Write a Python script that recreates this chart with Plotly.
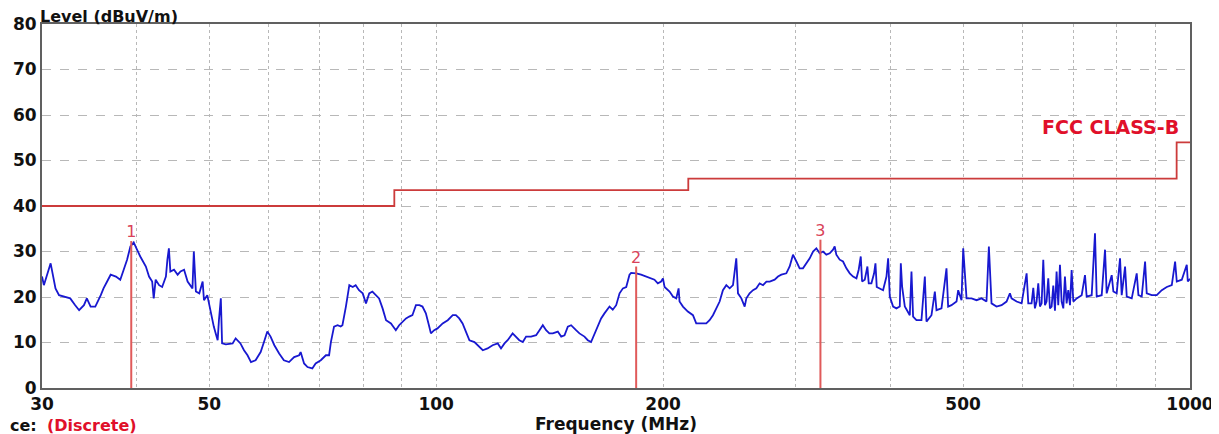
import math
import plotly.graph_objects as go

# ---------------- data ----------------
trace_freq_mhz = [
    30.0, 30.17, 30.8, 31.26, 31.6, 32.2, 32.7, 33.2, 33.6, 34.1, 34.4, 34.8, 35.3, 35.9, 36.2, 36.6,
    37.0, 37.6, 38.1, 38.5, 38.9, 39.3, 39.7, 40.1, 40.5, 41.2, 41.6, 42.0, 42.2, 42.45, 42.9, 43.3,
    43.8, 44.0, 44.2, 44.4, 44.9, 45.4, 45.8, 46.3, 46.8, 47.5, 47.7, 48.0, 48.5, 49.0, 49.2, 49.7,
    50.0, 50.2, 50.7, 51.0, 51.3, 51.5, 51.8, 52.0, 52.6, 53.7, 54.2, 55.0, 55.6, 56.2, 56.8, 57.6,
    58.5, 59.1, 59.7, 60.3, 61.0, 61.9, 62.8, 63.8, 64.8, 65.8, 66.1, 66.8, 67.5, 68.5, 69.2, 70.3,
    71.4, 72.1, 72.5, 73.2, 74.0, 74.7,
    75.1, 75.9, 76.7, 77.5, 78.2, 79.0, 79.9, 80.7, 81.5, 82.3, 83.2, 84.0, 84.9, 85.8, 87.1, 88.4,
    89.3, 90.3, 91.2, 92.1, 93.0, 94.0, 95.0, 95.9, 96.9, 97.9, 98.4, 99.4, 100.4, 102.0, 103.6, 105.2,
    106.2, 107.3, 108.4, 109.5, 110.7, 112.4, 113.5, 115.3, 117.0, 118.8, 120.7, 121.9, 123.2, 124.4,
    126.3, 127.6, 128.9, 130.3, 131.6, 133.6, 135.7, 137.1, 138.5, 139.9, 141.3, 142.8, 145.0, 146.5,
    148.0, 149.5, 151.0, 153.3, 154.9, 157.3, 158.9, 160.5, 162.2, 163.9, 165.5, 167.2, 169.8, 171.5,
    173.3, 175.1, 176.9, 178.7, 180.5, 181.4,
    184.2, 187.0, 189.9, 192.9, 194.8, 196.8, 198.8, 199.9, 200.9, 204.0, 206.1, 208.2, 209.7, 210.3,
    212.5, 215.7, 219.1, 221.3, 224.7, 228.2, 230.5, 232.9, 235.3, 237.7, 240.1, 242.6, 245.1, 247.6,
    250.1, 251.4, 254.0, 256.6, 257.9, 260.5, 263.2, 265.9, 268.6, 271.4, 274.2, 277.0, 281.2, 284.1,
    287.0, 291.4, 294.4, 297.4, 300.5, 303.5, 306.6, 309.8, 313.0, 316.2, 319.4, 322.7, 326.0, 329.3,
    332.7, 336.1, 337.8, 339.5, 343.0, 346.5, 350.1, 353.7, 357.3, 361.0, 363.5, 365.8, 367.3, 370.3,
    373.3, 374.8, 377.9, 381.0, 382.6, 384.1, 387.7, 391.6, 395.7, 397.7, 399.7, 403.8, 407.9, 412.1,
    413.4, 415.1, 418.5, 422.8,
    424.9, 427.1, 429.2, 433.6, 440.3, 444.9, 447.1, 454.0, 458.7, 461.0, 468.1, 475.3, 477.7, 482.6,
    490.1, 492.6, 497.6, 500.2, 505.3, 513.1, 521.0, 529.0, 537.1, 541.0, 545.4, 553.8, 562.4, 571.0,
    576.9, 579.8, 588.8, 597.9, 607.1, 610.2, 616.4, 619.6, 622.7, 625.9, 629.1, 632.3, 635.6, 638.8,
    642.1, 645.3, 648.6, 651.9, 655.3, 658.6, 662.0, 665.3, 668.7, 672.2, 675.6, 679.1, 682.5, 686.0,
    689.5, 693.1, 696.6, 700.2, 707.4, 718.3, 725.6, 729.3, 740.6, 748.1, 752.0, 763.6, 771.4, 775.3,
    787.3, 791.3, 799.4, 807.6, 811.7, 820.1, 824.3, 837.0, 849.8, 854.2, 862.9, 871.8, 876.2, 889.7,
    903.4, 917.4, 931.5, 945.9, 955.5, 960.4, 975.2, 990.2, 993.3, 1000.0,
]
trace_level_dbuv = [
    24.5, 22.6, 27.4, 21.9, 20.4, 20.1, 19.7, 18.2, 17.1, 18.2, 19.7, 17.9, 17.9, 20.4, 21.9, 23.4,
    24.9, 24.5, 23.8, 26.0, 28.2, 31.1, 32.0, 30.4, 28.9, 26.7, 24.5, 23.4, 19.7, 23.8, 22.6, 22.2,
    24.5, 28.2, 30.7, 25.6, 26.0, 24.9, 25.6, 26.0, 23.4, 21.9, 30.0, 21.2, 20.8, 23.4, 19.3, 20.4,
    18.2, 16.4, 13.5, 12.0, 10.5, 14.9, 19.7, 9.8, 9.6, 9.8, 10.9, 9.8, 8.3, 7.2, 5.7, 6.1,
    7.9, 10.1, 12.4, 11.3, 9.4, 7.6, 6.1, 5.7, 6.8, 7.2, 7.9, 5.4, 4.6, 4.3, 5.4, 6.1,
    7.2, 7.2, 10.1, 13.5, 13.8, 13.5,
    13.8, 17.9, 22.6, 22.2, 22.6, 21.5, 20.8, 18.6, 20.8, 21.2, 20.4, 19.7, 17.5, 14.9, 14.2, 12.7,
    13.8, 14.6, 15.3, 15.7, 16.0, 18.2, 18.2, 17.9, 16.4, 13.5, 12.0, 12.7, 13.1, 14.2, 14.9, 16.0,
    16.0, 15.3, 14.2, 12.4, 10.5, 10.1, 9.4, 8.3, 8.7, 9.4, 9.8, 8.7, 9.8, 10.5,
    12.0, 11.3, 10.5, 10.1, 11.3, 11.3, 11.6, 12.7, 13.8, 12.7, 12.0, 12.0, 12.4, 11.3,
    11.6, 13.5, 13.8, 12.7, 12.0, 11.3, 10.5, 10.1, 12.0, 13.5, 15.3, 16.4, 17.9, 17.2,
    18.2, 20.8, 21.9, 22.2, 24.9, 25.3,
    25.2, 24.9, 24.5, 24.1, 23.8, 23.0, 23.4, 24.1, 22.2, 21.2, 20.1, 19.7, 21.9, 19.0,
    17.9, 16.8, 16.0, 14.2, 14.2, 14.2, 14.9, 16.0, 17.5, 19.0, 21.5, 22.6, 21.9, 22.6,
    28.5, 20.8, 19.7, 17.9, 19.7, 20.8, 21.5, 21.9, 23.0, 22.6, 23.4, 23.4, 23.8, 24.5,
    24.9, 25.2, 26.7, 29.3, 27.8, 26.3, 26.3, 27.4, 28.5, 30.0, 30.7, 29.6, 30.0, 29.3,
    29.6, 30.4, 31.1, 29.3, 28.2, 27.8, 26.3, 25.2, 24.5, 24.1, 26.0, 28.9, 23.4, 23.8,
    26.7, 23.0, 23.0, 25.2, 27.4, 22.2, 21.9, 21.5, 24.5, 28.5, 20.1, 17.9, 17.5, 17.9,
    27.4, 22.2, 17.9, 16.4,
    16.0, 25.6, 15.7, 14.9, 14.9, 24.5, 14.6, 16.0, 21.2, 17.1, 17.5, 26.3, 17.9, 18.2,
    19.0, 21.5, 19.3, 30.7, 19.7, 19.7, 19.3, 19.7, 19.0, 31.1, 18.6, 17.9, 18.2, 19.0,
    20.8, 19.7, 19.0, 18.6, 25.2, 18.6, 18.6, 22.0, 17.5, 19.0, 23.0, 17.9, 18.6, 28.2,
    18.2, 19.0, 24.1, 17.5, 17.9, 22.5, 17.0, 25.6, 18.2, 27.1, 19.0, 17.5, 24.5, 18.6,
    21.5, 18.2, 25.9, 19.0, 19.7, 20.4, 24.8, 20.1, 20.4, 34.0, 20.1, 20.4, 30.4, 20.8,
    24.8, 21.2, 20.8, 28.5, 20.4, 26.7, 20.1, 19.7, 25.2, 20.4, 20.1, 27.8, 20.8, 20.4,
    20.4, 21.5, 22.2, 22.6, 27.8, 23.4, 23.8, 27.1, 23.4, 24.0,
]

limit_freq_mhz = [30, 88, 88, 216, 216, 960, 960, 1000]
limit_level_dbuv = [40, 40, 43.5, 43.5, 46, 46, 54, 54]
limit_name = "FCC CLASS-B"

marker_ids = ["1", "2", "3"]
marker_freq_mhz = [39.4, 184.2, 323.4]
marker_level_dbuv = [32.3, 26.7, 32.6]

x_tick_vals = [30, 40, 50, 60, 70, 80, 90, 100, 200, 300, 400, 500, 600, 700, 800, 900, 1000]
x_tick_text = ["30", "", "50", "", "", "", "", "100", "200", "", "", "500", "", "", "", "", "1000"]
y_tick_vals = [0, 10, 20, 30, 40, 50, 60, 70, 80]

x_title = "Frequency (MHz)"
y_title = "Level (dBuV/m)"
footer_label = "ce:"
footer_value = "(Discrete)"
# -------------------------------------

FONT = "DejaVu Sans, Verdana, sans-serif"
RED_LINE = "#cc3b3b"
MARK_RED = "#e05a5a"

fig = go.Figure()

fig.add_trace(go.Scatter(
    x=limit_freq_mhz, y=limit_level_dbuv, mode="lines",
    line=dict(color=RED_LINE, width=1.8), hoverinfo="skip", showlegend=False))

fig.add_trace(go.Scatter(
    x=trace_freq_mhz, y=trace_level_dbuv, mode="lines",
    line=dict(color="#1818d0", width=1.8), showlegend=False))

for f, lv in zip(marker_freq_mhz, marker_level_dbuv):
    fig.add_trace(go.Scatter(
        x=[f, f], y=[0, lv], mode="lines",
        line=dict(color=MARK_RED, width=2), showlegend=False, hoverinfo="skip"))

fig.add_trace(go.Scatter(
    x=marker_freq_mhz, y=marker_level_dbuv, mode="text", text=marker_ids,
    textposition="top center",
    textfont=dict(family=FONT, size=16, color="#d9425a"), showlegend=False))

# annotation x on a log axis is given in log10 units
fig.add_annotation(
    x=math.log10(limit_freq_mhz[-1]), y=limit_level_dbuv[-1], xref="x", yref="y",
    text=limit_name, showarrow=False, xanchor="right", yanchor="bottom",
    xshift=-9, yshift=2,
    font=dict(family=FONT, size=19, color="#e0102a", weight="bold"))

fig.add_annotation(
    x=0, y=1, xref="paper", yref="paper", text=y_title, showarrow=False,
    xanchor="left", yanchor="bottom", xshift=-4, yshift=-4,
    font=dict(family=FONT, size=16, color="#111", weight="bold"))

fig.add_annotation(
    x=0, y=0, xref="paper", yref="paper", text=footer_label, showarrow=False,
    xanchor="left", yanchor="middle", xshift=-34, yshift=-37,
    font=dict(family=FONT, size=16, color="#111", weight="bold"))
fig.add_annotation(
    x=0, y=0, xref="paper", yref="paper", text=footer_value, showarrow=False,
    xanchor="left", yanchor="middle", xshift=3, yshift=-37,
    font=dict(family=FONT, size=16, color="#e0102a", weight="bold"))

# The page body has an 8px margin, so the figure is sized to fit the window.
fig.update_layout(
    width=1211, height=426,
    margin=dict(l=34, r=29, t=16, b=46),
    paper_bgcolor="white", plot_bgcolor="white",
    xaxis=dict(
        type="log", range=[1.4771, 3.0], automargin=False,
        tickmode="array", tickvals=x_tick_vals, ticktext=x_tick_text,
        showgrid=True, gridcolor="#b8b8b8", gridwidth=1, griddash="dot",
        showline=True, linecolor="#606060", linewidth=2, mirror=True,
        ticks="", zeroline=False,
        tickfont=dict(family=FONT, size=17, color="#111", weight="bold"),
        title=dict(text=x_title, standoff=0,
                   font=dict(family=FONT, size=17, color="#111", weight="bold")),
    ),
    yaxis=dict(
        range=[0, 80], automargin=False,
        tickmode="array", tickvals=y_tick_vals,
        showgrid=True, gridcolor="#b8b8b8", gridwidth=1, griddash="dash",
        showline=True, linecolor="#606060", linewidth=2, mirror=True,
        ticks="", zeroline=False,
        tickfont=dict(family=FONT, size=17, color="#111", weight="bold"),
    ),
)

fig.write_html("out.html")
